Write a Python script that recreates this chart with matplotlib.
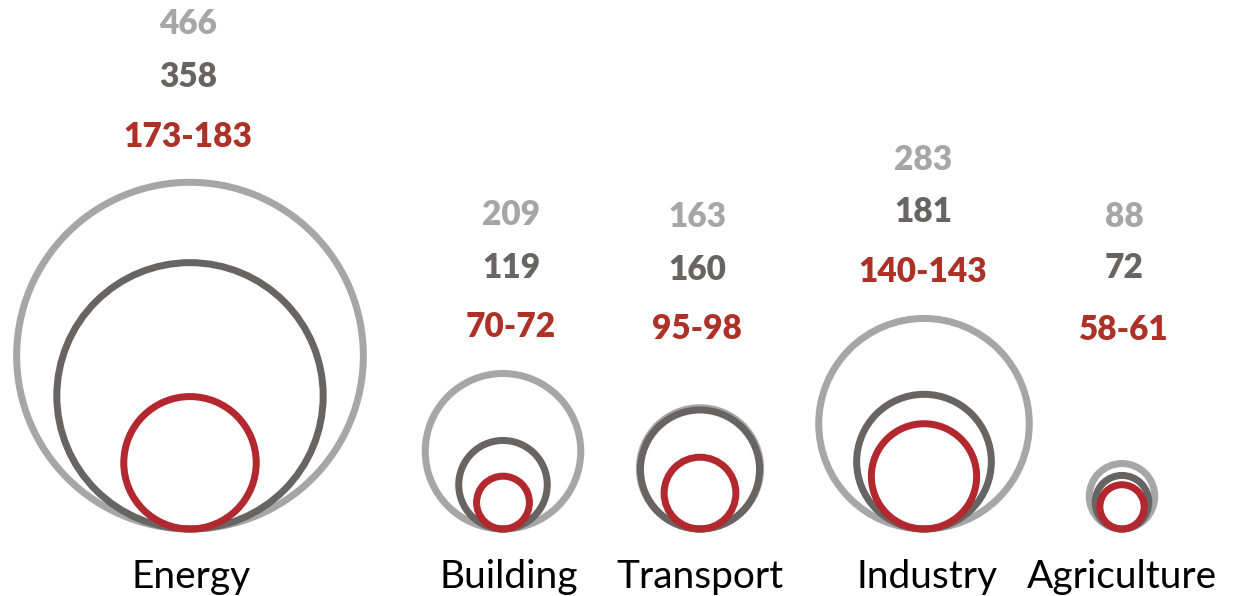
import matplotlib
matplotlib.use("Agg")
import matplotlib.pyplot as plt
import matplotlib.patches as mpatches

# ---- data ----
sectors = ["Energy", "Building", "Transport", "Industry", "Agriculture"]
outer_vals = [466, 209, 163, 283, 88]     # light gray
mid_vals = [358, 119, 160, 181, 72]       # dark gray
low_min = [173, 70, 95, 140, 58]          # red range
low_max = [183, 72, 98, 143, 61]

# ---- layout (pixel space) ----
circle_x = [190, 503, 700, 924, 1122]
text_x = [188, 511, 697, 923, 1124]
label_x = [191, 509, 700, 927, 1122]
text_y = [  # (outer, mid, low) label centres
    (24, 77, 137), (215, 268, 327), (217, 270, 329),
    (160, 212, 272), (217, 268, 330),
]
baseline = 529
scale = 0.372  # radius px per unit

c_light = "#A6A6A6"
c_dark = "#686464"
c_red = "#B3272E"
t_red = "#AE3127"

fig = plt.figure(figsize=(12.4, 5.96), dpi=100)
ax = fig.add_axes([0, 0, 1, 1])
ax.set_xlim(0, 1240)
ax.set_ylim(596, 0)
ax.axis("off")

lw = 7 * 72 / 100
for i, name in enumerate(sectors):
    low_mid = (low_min[i] + low_max[i]) / 2
    for val, col in [(outer_vals[i], c_light), (mid_vals[i], c_dark), (low_mid, c_red)]:
        r = val * scale
        ax.add_patch(mpatches.Circle((circle_x[i], baseline - r), r, fill=False,
                                     edgecolor=col, lw=lw))

    y0, y1, y2 = text_y[i]
    kw = dict(ha="center", va="center", fontsize=24, fontweight="heavy", family="Lato")
    ax.text(text_x[i], y0, f"{outer_vals[i]}", color=c_light, **kw)
    ax.text(text_x[i], y1, f"{mid_vals[i]}", color=c_dark, **kw)
    ax.text(text_x[i], y2, f"{low_min[i]}-{low_max[i]}", color=t_red, **kw)

    ax.text(label_x[i], 588, name, ha="center", va="baseline", fontsize=28,
            family="Lato", color="black")

fig.savefig("out.png", dpi=100)
